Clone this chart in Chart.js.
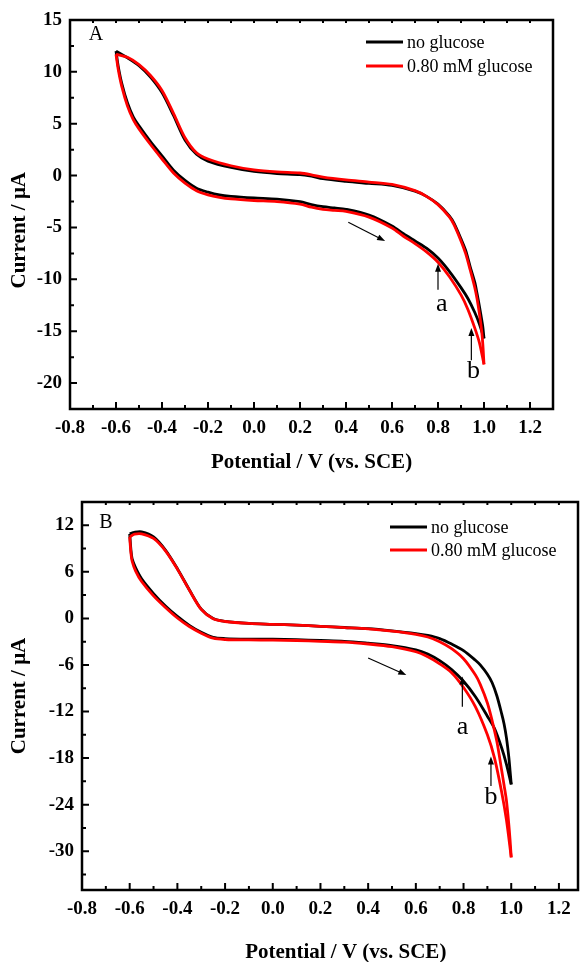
<!DOCTYPE html>
<html>
<head>
<meta charset="utf-8">
<script src="https://cdn.jsdelivr.net/npm/chart.js@4.4.0/dist/chart.umd.min.js"></script>
<style>
    html, body { margin: 0; padding: 0; background: #fff; overflow: hidden; }
    #wrap { position: relative; width: 584px; height: 962px; overflow: hidden; }
    #chart_a { position: absolute; left: 0; top: 0; }
    #chart_b { position: absolute; left: 0; top: 480px; }
</style>
</head>
<body>
<div id="wrap">
    <canvas id="chart_a" width="584" height="480"></canvas>
    <canvas id="chart_b" width="584" height="490"></canvas>
</div>
<script>
// ---- panel A : forward scan (lower branch), -0.6 -> 1.0 V
const potFwdA = [-0.6, -0.59, -0.575, -0.55, -0.525, -0.5, -0.45, -0.4, -0.35, -0.3, -0.25, -0.2, -0.15, -0.1, 0.0, 0.1, 0.2, 0.25, 0.3, 0.35, 0.4, 0.5, 0.6, 0.65, 0.7, 0.75, 0.8, 0.85, 0.9, 0.93, 0.96, 0.98, 1.0];
const noGlucoseFwdA = [12.0, 10.5, 8.9, 7.0, 5.67, 4.8, 3.28, 1.9, 0.52, -0.47, -1.22, -1.6, -1.87, -2.0, -2.15, -2.26, -2.52, -2.8, -3.0, -3.12, -3.25, -3.8, -4.85, -5.6, -6.3, -7.0, -7.95, -9.25, -10.8, -11.85, -13.2, -14.3, -15.7];
const glucoseFwdA = [11.7, 10.2, 8.6, 6.7, 5.4, 4.5, 3.0, 1.6, 0.25, -0.72, -1.45, -1.85, -2.1, -2.25, -2.4, -2.5, -2.75, -3.05, -3.25, -3.35, -3.45, -4.0, -5.05, -5.85, -6.55, -7.35, -8.35, -9.75, -11.5, -12.9, -14.7, -16.1, -18.2];
// reverse scan (upper branch), 1.0 -> -0.6 V
const potRevA = [1.0, 0.995, 0.99, 0.98, 0.97, 0.96, 0.94, 0.92, 0.9, 0.87, 0.85, 0.8, 0.75, 0.7, 0.6, 0.5, 0.4, 0.3, 0.25, 0.2, 0.1, 0.0, -0.1, -0.2, -0.25, -0.3, -0.35, -0.4, -0.45, -0.5, -0.55, -0.6];
const noGlucoseRevA = [-15.7, -14.6, -13.9, -12.6, -11.4, -10.3, -8.8, -7.2, -6.1, -4.6, -3.9, -2.75, -2.0, -1.5, -0.95, -0.75, -0.55, -0.3, -0.06, 0.1, 0.2, 0.4, 0.78, 1.4, 2.05, 3.43, 5.8, 8.0, 9.5, 10.6, 11.35, 12.0];
const glucoseRevA = [-18.2, -16.3, -15.0, -13.3, -11.9, -10.8, -9.1, -7.5, -6.3, -4.75, -4.0, -2.8, -2.0, -1.45, -0.85, -0.62, -0.42, -0.15, 0.08, 0.25, 0.35, 0.55, 0.95, 1.6, 2.2, 3.65, 6.0, 8.2, 9.65, 10.7, 11.4, 11.7];

// ---- panel B : forward scan (lower branch)
const potFwdB = [-0.6, -0.595, -0.59, -0.575, -0.55, -0.5, -0.45, -0.4, -0.35, -0.3, -0.25, -0.2, -0.1, 0.0, 0.1, 0.2, 0.3, 0.4, 0.5, 0.6, 0.65, 0.7, 0.75, 0.8, 0.85, 0.9, 0.93, 0.96, 0.98, 1.0];
const noGlucoseFwdB = [10.9, 8.9, 7.7, 6.5, 5.1, 3.2, 1.6, 0.25, -0.9, -1.8, -2.45, -2.6, -2.67, -2.68, -2.75, -2.85, -2.95, -3.2, -3.5, -4.05, -4.6, -5.45, -6.6, -8.1, -10.1, -12.6, -14.2, -16.7, -18.8, -21.4];
const glucoseFwdB = [10.5, 8.5, 7.4, 6.1, 4.75, 2.9, 1.4, 0.05, -1.05, -1.9, -2.55, -2.72, -2.78, -2.8, -2.85, -2.95, -3.05, -3.3, -3.65, -4.3, -4.95, -5.85, -7.0, -8.9, -11.4, -15.0, -18.0, -22.4, -26.0, -30.8];
// reverse scan (upper branch)
const potRevB = [1.0, 0.995, 0.99, 0.98, 0.97, 0.96, 0.94, 0.92, 0.9, 0.87, 0.85, 0.8, 0.75, 0.7, 0.65, 0.6, 0.5, 0.4, 0.3, 0.2, 0.1, 0.0, -0.1, -0.2, -0.25, -0.3, -0.35, -0.4, -0.45, -0.5, -0.55, -0.58, -0.6];
const noGlucoseRevB = [-21.4, -19.6, -17.9, -15.4, -13.6, -12.3, -10.0, -8.3, -7.2, -6.0, -5.4, -4.15, -3.3, -2.6, -2.2, -1.95, -1.6, -1.32, -1.17, -1.02, -0.87, -0.76, -0.65, -0.38, -0.02, 1.2, 3.7, 6.4, 8.8, 10.5, 11.15, 11.1, 10.9];
const glucoseRevB = [-30.8, -28.5, -26.6, -23.5, -21.5, -19.6, -15.9, -13.2, -10.9, -8.5, -7.3, -5.2, -3.9, -3.0, -2.4, -2.05, -1.65, -1.35, -1.18, -1.02, -0.87, -0.76, -0.65, -0.4, -0.05, 1.15, 3.65, 6.35, 8.7, 10.3, 10.9, 10.85, 10.5];

// tick labels
const xTicks = [-0.8, -0.6, -0.4, -0.2, 0.0, 0.2, 0.4, 0.6, 0.8, 1.0, 1.2];
const yTicksA = [-20, -15, -10, -5, 0, 5, 10, 15];
const yTicksB = [-30, -24, -18, -12, -6, 0, 6, 12];

const seriesNames = ['no glucose', '0.80 mM glucose'];
const seriesColors = ['#000000', '#ff0000'];

// annotation arrows / letters, in data units
const arrowsA = [[0.41, -4.5, 0.57, -6.3], [0.80, -11.0, 0.80, -8.5], [0.945, -17.8, 0.945, -14.7]];
const notesA = [['a', 0.816, -12.4], ['b', 0.954, -18.9]];
const arrowsB = [[0.40, -5.1, 0.56, -7.3], [0.795, -11.4, 0.795, -7.5], [0.915, -21.6, 0.915, -17.8]];
const notesB = [['a', 0.796, -14.0], ['b', 0.915, -23.1]];


const pts = (pot, cur) => pot.map((p, i) => ({ x: p, y: cur[i] }));

const serif = 'Liberation Serif, Times New Roman, serif';
const sp = '\u2002\u2002\u2002'; // shifts a centred title a little off centre, as in the figure

function arrow(ctx, x1, y1, x2, y2) {
    const ang = Math.atan2(y2 - y1, x2 - x1);
    const len = 8, half = 3;
    ctx.beginPath();
    ctx.moveTo(x1, y1);
    ctx.lineTo(x2 - Math.cos(ang) * len * 0.7, y2 - Math.sin(ang) * len * 0.7);
    ctx.stroke();
    ctx.beginPath();
    ctx.moveTo(x2, y2);
    ctx.lineTo(x2 - Math.cos(ang) * len - Math.sin(ang) * half, y2 - Math.sin(ang) * len + Math.cos(ang) * half);
    ctx.lineTo(x2 - Math.cos(ang) * len + Math.sin(ang) * half, y2 - Math.sin(ang) * len - Math.cos(ang) * half);
    ctx.closePath();
    ctx.fill();
}

// frame, inward ticks, legend, panel letter, arrows
const framePlugin = {
    id: 'frame',
    afterDraw(chart, args, o) {
        const ctx = chart.ctx;
        const a = chart.chartArea;
        const xs = chart.scales.x, ys = chart.scales.y;
        ctx.save();
        ctx.strokeStyle = '#000';
        ctx.fillStyle = '#000';

        const minors = (vals, min, max) => {
            const out = [];
            const step = vals[1] - vals[0];
            for (let v = vals[0] - step / 2; v < max - 1e-6; v += step) {
                if (v > min + 1e-6) out.push(v);
            }
            return out;
        };
        const xv = xs.ticks.map(t => t.value);
        const yv = ys.ticks.map(t => t.value);

        ctx.lineWidth = 2;
        ctx.beginPath();
        xv.forEach(v => {
            const p = xs.getPixelForValue(v);
            ctx.moveTo(p, a.bottom); ctx.lineTo(p, a.bottom - 7);
            ctx.moveTo(p, a.top); ctx.lineTo(p, a.top + 3);
        });
        minors(xv, xs.min, xs.max).forEach(v => {
            const p = xs.getPixelForValue(v);
            ctx.moveTo(p, a.bottom); ctx.lineTo(p, a.bottom - 4);
            ctx.moveTo(p, a.top); ctx.lineTo(p, a.top + 3);
        });
        yv.forEach(v => {
            const p = ys.getPixelForValue(v);
            ctx.moveTo(a.left, p); ctx.lineTo(a.left + 7, p);
        });
        minors(yv, ys.min, ys.max).forEach(v => {
            const p = ys.getPixelForValue(v);
            ctx.moveTo(a.left, p); ctx.lineTo(a.left + 4, p);
        });
        ctx.stroke();

        ctx.lineWidth = 2.5;
        ctx.strokeRect(a.left, a.top, a.right - a.left, a.bottom - a.top);

        // legend
        ctx.font = '18px ' + serif;
        ctx.textBaseline = 'middle';
        ctx.textAlign = 'left';
        seriesNames.forEach((name, i) => {
            const lx = a.right - o.legend[0];
            const ly = a.top + o.legend[1] + i * o.legend[2];
            ctx.strokeStyle = seriesColors[i];
            ctx.lineWidth = 3;
            ctx.beginPath();
            ctx.moveTo(lx, ly); ctx.lineTo(lx + 37, ly);
            ctx.stroke();
            ctx.fillStyle = '#000';
            ctx.fillText(name, lx + 41, ly + 1);
        });

        // panel letter
        ctx.font = '20px ' + serif;
        ctx.textAlign = 'center';
        ctx.fillText(o.letter, a.left + o.letterPos[0], a.top + o.letterPos[1]);

        // arrows and notes
        ctx.strokeStyle = '#000';
        ctx.lineWidth = 1.2;
        o.arrows.forEach(r => {
            arrow(ctx, xs.getPixelForValue(r[0]), ys.getPixelForValue(r[1]),
                xs.getPixelForValue(r[2]), ys.getPixelForValue(r[3]));
        });
        ctx.font = '26px ' + serif;
        o.notes.forEach(n => {
            ctx.fillText(n[0], xs.getPixelForValue(n[1]), ys.getPixelForValue(n[2]));
        });
        ctx.restore();
    }
};

function cvChart(id, p) {
    const branch = (data, k) => ({
        label: seriesNames[k],
        data: data,
        borderColor: seriesColors[k],
        borderWidth: 2.8,
        pointRadius: 0,
        showLine: true,
        tension: 0.3,
        fill: false,
        order: k === 1 ? 0 : 1
    });
    const tickFont = { family: serif, size: 19, weight: 'bold' };
    const titleFont = { family: serif, size: 21, weight: 'bold' };
    return new Chart(document.getElementById(id), {
        type: 'scatter',
        data: {
            datasets: [
                branch(pts(p.potFwd, p.black[0]), 0),
                branch(pts(p.potRev, p.black[1]), 0),
                branch(pts(p.potFwd, p.red[0]), 1),
                branch(pts(p.potRev, p.red[1]), 1)
            ]
        },
        options: {
            responsive: false,
            animation: false,
            devicePixelRatio: 1,
            layout: { padding: p.pad },
            plugins: {
                legend: { display: false },
                tooltip: { enabled: false },
                frame: { legend: p.legend, letter: p.letter, letterPos: p.letterPos, arrows: p.arrows, notes: p.notes }
            },
            scales: {
                x: {
                    type: 'linear',
                    min: -0.8,
                    max: p.xMax,
                    grid: { display: false, drawTicks: false },
                    border: { display: false },
                    afterBuildTicks: axis => { axis.ticks = xTicks.map(v => ({ value: v })); },
                    afterFit: axis => { axis.height = p.xHeight; },
                    ticks: {
                        autoSkip: false, maxRotation: 0, padding: 8, color: '#000', font: tickFont,
                        callback: v => v.toFixed(1)
                    },
                    title: {
                        display: true, text: p.xTitle, color: '#000', font: titleFont,
                        padding: { top: 0, bottom: 5 }
                    }
                },
                y: {
                    type: 'linear',
                    min: p.yMin,
                    max: 15,
                    grid: { display: false, drawTicks: false },
                    border: { display: false },
                    afterBuildTicks: axis => { axis.ticks = p.yTicks.map(v => ({ value: v })); },
                    afterFit: axis => { axis.width = p.yWidth; },
                    ticks: { autoSkip: false, padding: 8, color: '#000', font: tickFont },
                    title: {
                        display: true, text: p.yTitle, color: '#000', font: titleFont,
                        padding: { top: 7, bottom: 0 }
                    }
                }
            }
        },
        plugins: [framePlugin]
    });
}

const chart_a = cvChart('chart_a', {
    potFwd: potFwdA, potRev: potRevA,
    black: [noGlucoseFwdA, noGlucoseRevA], red: [glucoseFwdA, glucoseRevA],
    xMax: 1.3, yMin: -22.5, yTicks: yTicksA,
    xTitle: 'Potential / V (vs. SCE)', yTitle: 'Current / μA' + sp,
    yWidth: 70, xHeight: 71, pad: { top: 20, right: 31, left: 0, bottom: 0 },
    legend: [187, 22, 24], letter: 'A', letterPos: [26, 15],
    arrows: arrowsA, notes: notesA
});

const chart_b = cvChart('chart_b', {
    potFwd: potFwdB, potRev: potRevB,
    black: [noGlucoseFwdB, noGlucoseRevB], red: [glucoseFwdB, glucoseRevB],
    xMax: 1.28, yMin: -35, yTicks: yTicksB,
    xTitle: sp + 'Potential / V (vs. SCE)', yTitle: 'Current / μA',
    yWidth: 82, xHeight: 80, pad: { top: 22, right: 6, left: 0, bottom: 0 },
    legend: [188, 25, 23], letter: 'B', letterPos: [24, 21],
    arrows: arrowsB, notes: notesB
});
</script>
</body>
</html>
